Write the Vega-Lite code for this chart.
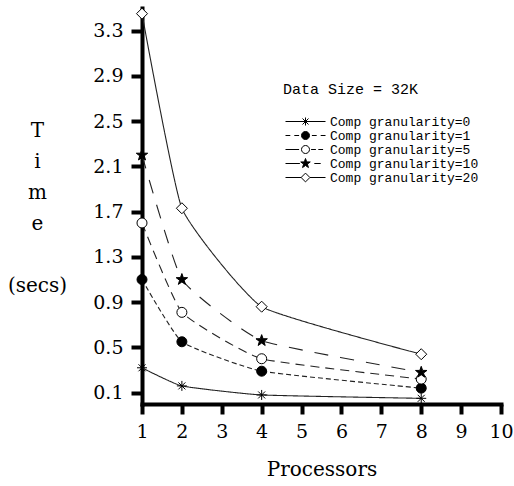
{
  "$schema": "https://vega.github.io/schema/vega-lite/v6.json",
  "width": 359,
  "height": 396,
  "autosize": {"type": "none"},
  "padding": {"left": 142, "top": 8, "right": 13, "bottom": 82},
  "background": "white",
  "data": {
    "values": [
      {"p": 1, "t": 0.32, "g": 0, "series": "Comp granularity=0"},
      {"p": 2, "t": 0.16, "g": 0, "series": "Comp granularity=0"},
      {"p": 4, "t": 0.08, "g": 0, "series": "Comp granularity=0"},
      {"p": 8, "t": 0.05, "g": 0, "series": "Comp granularity=0"},
      {"p": 1, "t": 1.1, "g": 1, "series": "Comp granularity=1"},
      {"p": 2, "t": 0.55, "g": 1, "series": "Comp granularity=1"},
      {"p": 4, "t": 0.29, "g": 1, "series": "Comp granularity=1"},
      {"p": 8, "t": 0.14, "g": 1, "series": "Comp granularity=1"},
      {"p": 1, "t": 1.6, "g": 5, "series": "Comp granularity=5"},
      {"p": 2, "t": 0.81, "g": 5, "series": "Comp granularity=5"},
      {"p": 4, "t": 0.4, "g": 5, "series": "Comp granularity=5"},
      {"p": 8, "t": 0.22, "g": 5, "series": "Comp granularity=5"},
      {"p": 1, "t": 2.2, "g": 10, "series": "Comp granularity=10"},
      {"p": 2, "t": 1.1, "g": 10, "series": "Comp granularity=10"},
      {"p": 4, "t": 0.56, "g": 10, "series": "Comp granularity=10"},
      {"p": 8, "t": 0.28, "g": 10, "series": "Comp granularity=10"},
      {"p": 1, "t": 3.45, "g": 20, "series": "Comp granularity=20"},
      {"p": 2, "t": 1.73, "g": 20, "series": "Comp granularity=20"},
      {"p": 4, "t": 0.86, "g": 20, "series": "Comp granularity=20"},
      {"p": 8, "t": 0.44, "g": 20, "series": "Comp granularity=20"}
    ]
  },
  "encoding": {
    "x": {
      "field": "p", "type": "quantitative",
      "scale": {"domain": [1, 10], "nice": false, "zero": false},
      "axis": {
        "values": [1, 2, 3, 4, 5, 6, 7, 8, 9, 10],
        "title": "Processors",
        "grid": false,
        "labelFont": "DejaVu Serif", "labelFontSize": 19, "labelColor": "black",
        "labelFlush": false, "labelOverlap": false, "labelPadding": 8,
        "domainColor": "black", "domainWidth": 4, "domainCap": "square",
        "tickColor": "black", "tickWidth": 4, "tickSize": 10,
        "titleFont": "DejaVu Serif", "titleFontSize": 20, "titleFontWeight": "normal", "titleColor": "black",
        "titleY": 65, "titleBaseline": "middle"
      }
    },
    "y": {
      "field": "t", "type": "quantitative",
      "scale": {"domain": [0, 3.5], "nice": false, "zero": false},
      "axis": {
        "values": [0.1, 0.5, 0.9, 1.3, 1.7, 2.1, 2.5, 2.9, 3.3],
        "format": ".1f",
        "title": ["T", "i", "m", "e", "\u200b", "(secs)"],
        "grid": false,
        "labelFont": "DejaVu Serif", "labelFontSize": 19, "labelColor": "black",
        "labelFlush": false, "labelOverlap": false, "labelPadding": 8,
        "domainColor": "black", "domainWidth": 4, "domainCap": "square",
        "tickColor": "black", "tickWidth": 4, "tickSize": 11,
        "titleFont": "DejaVu Serif", "titleFontSize": 20, "titleFontWeight": "normal", "titleColor": "black",
        "titleAngle": 0, "titleX": -105, "titleY": 122, "titleAlign": "center", "titleBaseline": "middle",
        "titleLineHeight": 31
      }
    }
  },
  "layer": [
    {
      "mark": {"type": "line", "interpolate": "cardinal", "tension": 0.6, "color": "#222222", "strokeWidth": 1.1},
      "encoding": {
        "detail": {"field": "g", "type": "nominal"},
        "strokeDash": {
          "field": "g", "type": "nominal",
          "scale": {
            "domain": [0, 1, 5, 10, 20],
            "range": [[1, 0], [5, 3], [9, 6], [14, 12], [1, 0]]
          },
          "legend": null
        }
      }
    },
    {
      "mark": {"type": "point", "filled": true, "stroke": "black", "strokeWidth": 1, "size": 100, "opacity": 1},
      "encoding": {
        "fill": {
          "field": "g", "type": "nominal",
          "scale": {
            "domain": [0, 1, 5, 10, 20],
            "range": ["black", "black", "white", "black", "white"]
          },
          "legend": null
        },
        "shape": {
          "field": "g", "type": "nominal",
          "scale": {
            "domain": [0, 1, 5, 10, 20],
            "range": [
              "M-1,0L1,0M0,-1L0,1M-0.7,-0.7L0.7,0.7M-0.7,0.7L0.7,-0.7",
              "circle",
              "circle",
              "M0,-1.2L0.282,-0.389L1.141,-0.371L0.456,0.149L0.705,0.971L0,0.48L-0.705,0.971L-0.456,0.149L-1.141,-0.371L-0.282,-0.389Z",
              "M0,-1.1L1.1,0L0,1.1L-1.1,0Z"
            ]
          },
          "legend": null
        }
      }
    },
    {
      "transform": [{"filter": "datum.p > 100"}],
      "mark": {"type": "point", "filled": true, "stroke": "black", "strokeWidth": 1, "size": 64, "opacity": 1},
      "encoding": {
        "fill": {
          "field": "series", "type": "nominal",
          "scale": {
            "domain": ["Comp granularity=0", "Comp granularity=1", "Comp granularity=5", "Comp granularity=10", "Comp granularity=20"],
            "range": ["black", "black", "white", "black", "white"]
          }
        },
        "shape": {
          "field": "series", "type": "nominal",
          "scale": {
            "domain": ["Comp granularity=0", "Comp granularity=1", "Comp granularity=5", "Comp granularity=10", "Comp granularity=20"],
            "range": [
              "M-5,0L5,0M0,-1L0,1M-0.75,-0.75L0.75,0.75M-0.75,0.75L0.75,-0.75",
              "M-5,0L-3.8,0M-2.8,0L-1.6,0M-1,0A1,1,0,1,0,1,0A1,1,0,1,0,-1,0M1.6,0L2.8,0M3.8,0L5,0",
              "M-5,0L-1.6,0M-1,0A1,1,0,1,0,1,0A1,1,0,1,0,-1,0M1.4,0L2.6,0M3.2,0L4.4,0",
              "M-5,0L-1.4,0M0,-1.25L0.294,-0.405L1.189,-0.386L0.476,0.155L0.735,1.011L0,0.5L-0.735,1.011L-0.476,0.155L-1.189,-0.386L-0.294,-0.405ZM2.2,0L3.8,0",
              "M-5,0L-1.1,0M0,-1.1L1.1,0L0,1.1L-1.1,0ZM1.1,0L5,0"
            ]
          },
          "legend": {
            "title": "Data Size = 32K",
            "rowPadding": -4,
            "symbolSize": 64,
            "symbolOffset": 16,
            "labelOffset": 18
          }
        }
      }
    }
  ],
  "resolve": {
    "scale": {"shape": "independent", "fill": "independent"},
    "legend": {"shape": "independent", "fill": "independent"}
  },
  "config": {
    "view": {"stroke": null},
    "font": "DejaVu Serif",
    "legend": {
      "orient": "none",
      "legendX": 141,
      "legendY": 74,
      "padding": 0,
      "titleFont": "Liberation Mono", "titleFontSize": 15, "titleFontWeight": "normal", "titleColor": "black",
      "titlePadding": 18,
      "labelFont": "Liberation Mono", "labelFontSize": 13, "labelColor": "black",
      "symbolStrokeWidth": 1
    }
  }
}
